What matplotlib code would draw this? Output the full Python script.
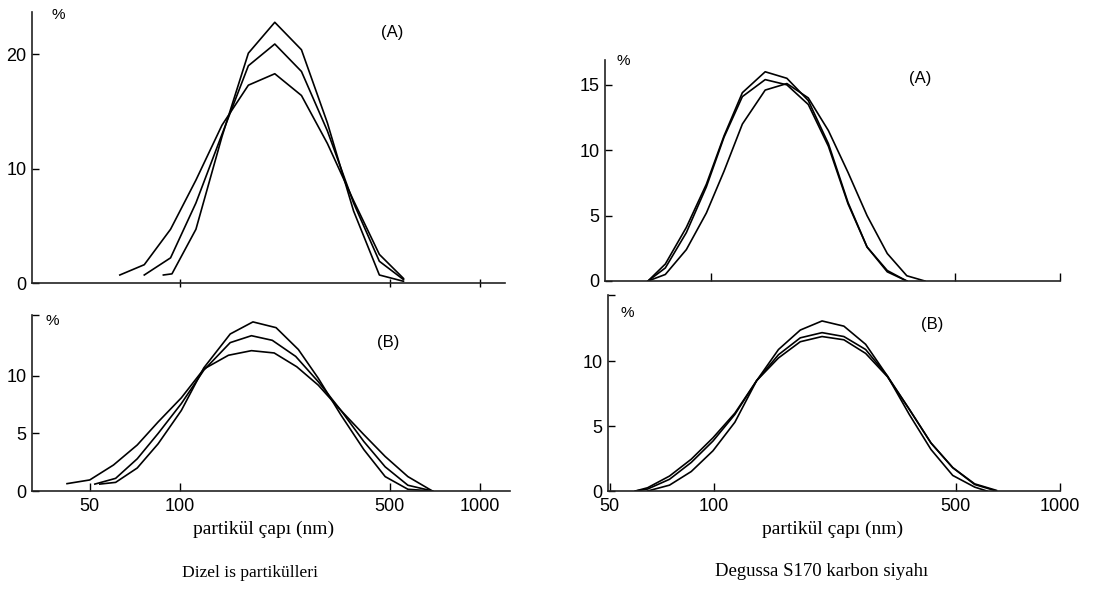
import numpy as np
import matplotlib
matplotlib.use('Agg')
import matplotlib.pyplot as plt
from matplotlib.ticker import FixedLocator, NullLocator, FixedFormatter

plt.rcParams['font.family'] = ['Liberation Sans', 'DejaVu Sans']

W, H = 1093, 590

# Dizel is partikulleri (A)
tl_x_low = [63, 76, 93, 113, 138, 169, 207, 254, 310, 379, 462, 556]
tl_low = [0.7, 1.6, 4.7, 9.0, 13.8, 17.3, 18.3, 16.4, 12.2, 7.2, 2.5, 0.4]
tl_x_mid = [76, 93, 113, 138, 169, 207, 254, 310, 379, 462, 556]
tl_mid = [0.7, 2.2, 7.0, 13.0, 19.0, 20.9, 18.5, 13.3, 7.0, 1.9, 0.3]
tl_x_high = [88, 94, 113, 138, 169, 207, 254, 310, 379, 462, 556]
tl_high = [0.7, 0.8, 4.7, 12.8, 20.1, 22.8, 20.4, 14.0, 6.3, 0.7, 0.15]

# Dizel is partikulleri (B)
bl_x_low = [42, 50, 60, 72, 84.5, 101, 120, 145, 173, 206, 245, 289, 344, 410, 483, 575, 694]
bl_low = [0.64, 0.96, 2.26, 4.0, 6.0, 8.1, 10.6, 11.8, 12.2, 12.0, 10.8, 9.2, 7.0, 4.9, 3.0, 1.25, 0.0]
bl_x_mid = [52, 61, 72, 84.5, 101, 120, 147, 173, 203, 243, 289, 344, 410, 483, 575, 694]
bl_mid = [0.6, 1.1, 2.8, 5.0, 7.6, 10.5, 12.9, 13.5, 13.1, 11.7, 9.5, 7.0, 4.3, 2.1, 0.5, 0.0]
bl_x_high = [54, 61, 72, 84.5, 101, 120, 147, 175, 209, 248, 289, 344, 410, 483, 575, 694]
bl_high = [0.6, 0.75, 2.0, 4.1, 7.0, 10.7, 13.65, 14.7, 14.2, 12.3, 9.8, 6.6, 3.6, 1.25, 0.15, 0.0]

# Degussa S170 (A)
tr_x = [66, 74, 85, 97, 109, 123, 143, 165, 190, 217, 247, 280, 320, 364, 410]
tr_p = [0, 1.3, 4.1, 7.4, 11.1, 14.4, 16.0, 15.5, 13.8, 10.5, 6.0, 2.6, 0.8, 0.0]
tr_q = [0, 1.0, 3.7, 7.2, 11.0, 14.1, 15.4, 15.0, 13.5, 10.3, 5.9, 2.6, 0.7, 0.0]
tr_r = [0, 0.5, 2.4, 5.2, 8.4, 12.0, 14.6, 15.1, 14.0, 11.5, 8.3, 5.0, 2.1, 0.4, 0.0]

# Degussa S170 (B)
br_x = [59.4, 64.4, 74.5, 86.1, 99.5, 115.1, 133, 153.8, 177.8, 205.5, 237.6, 274.6, 317.5, 367, 424, 490, 567, 655]
br_x_high = [64.4, 74.5, 86.1, 99.5, 115.1, 133, 153.8, 177.8, 205.5, 237.6, 274.6, 317.5, 367, 424, 490, 567, 615]
br_high = [0, 0.45, 1.5, 3.1, 5.3, 8.5, 10.9, 12.4, 13.1, 12.7, 11.3, 8.85, 5.9, 3.2, 1.2, 0.3, 0]
br_mid = [0, 0.15, 0.9, 2.2, 3.85, 5.9, 8.5, 10.5, 11.8, 12.2, 11.9, 10.9, 8.85, 6.3, 3.7, 1.8, 0.5, 0]
br_low = [0, 0.25, 1.15, 2.45, 4.1, 6.0, 8.5, 10.25, 11.5, 11.9, 11.65, 10.6, 8.8, 6.3, 3.7, 1.8, 0.55, 0.05]

x_ticks = [50, 100, 500, 1000]
x_labels = ['50', '100', '500', '1000']


def px_axes(fig, x0, y0, x1, y1):
    # pixel box (left, top, right, bottom) -> figure fraction
    return fig.add_axes([x0 / W, 1 - y1 / H, (x1 - x0) / W, (y1 - y0) / H])


def px_text(fig, x, y, s, **kw):
    fig.text(x / W, 1 - y / H, s, ha='center', va='center', **kw)


def style(ax, xlim, ylim, yticks, ylabels, xticks, xlabels, xdir):
    ax.set_xscale('log')
    ax.set_xlim(*xlim)
    ax.set_ylim(*ylim)
    for s in ['top', 'right']:
        ax.spines[s].set_visible(False)
    for s in ['left', 'bottom']:
        ax.spines[s].set_linewidth(1.2)
        ax.spines[s].set_color('#222222')
    ax.xaxis.set_major_locator(FixedLocator(xticks))
    ax.xaxis.set_minor_locator(NullLocator())
    ax.xaxis.set_major_formatter(FixedFormatter(xlabels))
    ax.set_yticks(yticks)
    ax.set_yticklabels(ylabels)
    ax.tick_params(axis='x', direction=xdir, length=6, width=1, labelsize=13, pad=5)
    ax.tick_params(axis='y', direction='in', length=5, width=1, labelsize=13, pad=4)
    ax.patch.set_alpha(0)


fig = plt.figure(figsize=(W / 100, H / 100), dpi=100)
lw = 1.2

ax = px_axes(fig, 32, 12, 505, 283)
ax.plot(tl_x_low, tl_low, color='black', lw=lw)
ax.plot(tl_x_mid, tl_mid, color='black', lw=lw)
ax.plot(tl_x_high, tl_high, color='black', lw=lw)
style(ax, (32.1, 1212), (0, 23.7), [0, 10, 20], ['0', '10', '20'],
      [100, 500, 1000], ['', '', ''], 'inout')

ax = px_axes(fig, 32, 315, 510, 491)
ax.plot(bl_x_low, bl_low, color='black', lw=lw)
ax.plot(bl_x_mid, bl_mid, color='black', lw=lw)
ax.plot(bl_x_high, bl_high, color='black', lw=lw)
style(ax, (32.1, 1259), (0, 15.3), [0, 5, 10, 15.3], ['0', '5', '10', ''],
      x_ticks, x_labels, 'in')

ax = px_axes(fig, 605, 60, 1060, 281)
ax.plot(tr_x[:len(tr_p)], tr_p, color='black', lw=lw)
ax.plot(tr_x[:len(tr_q)], tr_q, color='black', lw=lw)
ax.plot(tr_x, tr_r, color='black', lw=lw)
style(ax, (49.7, 1000), (0, 16.9), [0, 5, 10, 15], ['0', '5', '10', '15'],
      [100, 500, 1000], ['', '', ''], 'in')

ax = px_axes(fig, 608, 295, 1060, 491)
ax.plot(br_x_high, br_high, color='black', lw=lw)
ax.plot(br_x, br_mid, color='black', lw=lw)
ax.plot(br_x, br_low, color='black', lw=lw)
style(ax, (49.5, 1000), (0, 15.1), [0, 5, 10, 15.1], ['0', '5', '10', ''],
      x_ticks, x_labels, 'in')

# panel annotations
px_text(fig, 58, 15, '%', fontsize=11)
px_text(fig, 52, 321, '%', fontsize=11)
px_text(fig, 623, 61, '%', fontsize=11)
px_text(fig, 627, 313, '%', fontsize=11)
px_text(fig, 392, 32, '(A)', fontsize=12)
px_text(fig, 388, 343, '(B)', fontsize=12)
px_text(fig, 920, 79, '(A)', fontsize=12)
px_text(fig, 932, 324, '(B)', fontsize=12)

serif = ['Liberation Serif', 'DejaVu Serif']
px_text(fig, 264, 529, 'partikül çapı (nm)', fontsize=14, family=serif)
px_text(fig, 833, 529, 'partikül çapı (nm)', fontsize=14, family=serif)
px_text(fig, 250, 573, 'Dizel is partikülleri', fontsize=12.6, family=serif)
px_text(fig, 822, 572, 'Degussa S170 karbon siyahı', fontsize=13.5, family=serif)

fig.savefig('out.png', dpi=100, facecolor='white')
